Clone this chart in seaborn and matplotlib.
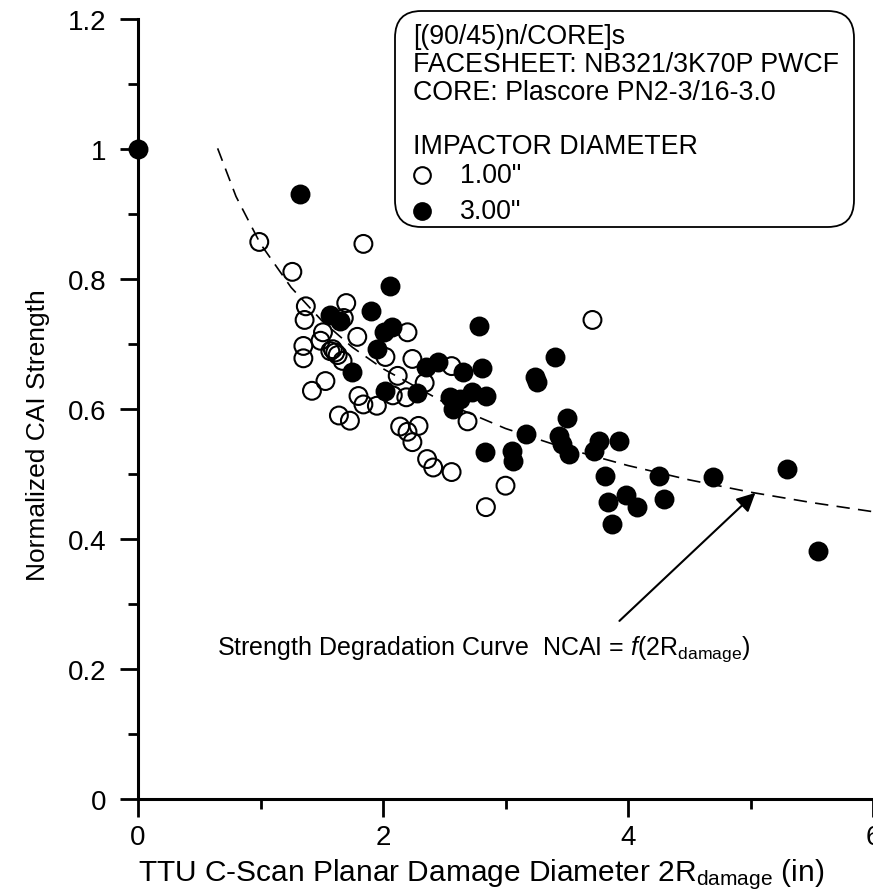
import numpy as np
import pandas as pd
import matplotlib
matplotlib.use("Agg")
import matplotlib.pyplot as plt
import seaborn as sns
from matplotlib.patches import FancyBboxPatch
from matplotlib.lines import Line2D

# ---- data ----
open_x = [0.99, 1.26, 1.84, 1.37, 1.36, 1.70, 1.68, 1.51, 1.49, 1.79, 2.20, 1.35, 1.35,
          1.57, 1.61, 1.63, 1.59, 1.67, 2.02, 2.24, 1.53, 1.42, 2.12, 2.34, 1.80, 2.08,
          2.19, 1.84, 1.95, 1.64, 1.73, 2.14, 2.29, 2.20, 2.24, 2.36, 2.41, 2.56, 2.69,
          2.56, 2.84, 3.00, 3.71]
open_y = [0.857, 0.811, 0.854, 0.758, 0.737, 0.763, 0.740, 0.718, 0.705, 0.711, 0.718, 0.697, 0.678,
          0.689, 0.687, 0.683, 0.692, 0.674, 0.680, 0.677, 0.643, 0.628, 0.651, 0.640, 0.620, 0.621,
          0.618, 0.607, 0.605, 0.590, 0.582, 0.573, 0.574, 0.565, 0.549, 0.523, 0.510, 0.666, 0.581,
          0.503, 0.449, 0.482, 0.737]

filled_x = [0.00, 1.32, 2.06, 1.57, 1.65, 1.90, 2.01, 2.07, 1.95, 1.75, 2.02, 2.28, 2.35,
            2.45, 2.65, 2.81, 2.78, 3.40, 3.24, 3.26, 2.55, 2.63, 2.57, 2.73, 2.84, 3.17,
            2.83, 3.05, 3.06, 3.50, 3.44, 3.46, 3.52, 3.76, 3.72, 3.93, 4.25, 3.81, 3.84,
            3.98, 3.87, 4.07, 4.69, 5.30, 4.29, 5.55]
filled_y = [1.000, 0.931, 0.789, 0.745, 0.735, 0.751, 0.718, 0.726, 0.692, 0.657, 0.628, 0.625, 0.664,
            0.672, 0.657, 0.663, 0.728, 0.680, 0.649, 0.641, 0.618, 0.615, 0.600, 0.626, 0.620, 0.561,
            0.534, 0.535, 0.520, 0.586, 0.559, 0.546, 0.531, 0.551, 0.535, 0.551, 0.497, 0.497, 0.457,
            0.467, 0.423, 0.449, 0.495, 0.508, 0.462, 0.382]

# strength degradation curve
curve_x = [0.65, 0.80, 1.00, 1.25, 1.50, 1.75, 2.00, 2.50, 3.00, 3.50, 4.00, 4.50, 5.00, 5.50, 6.00]
curve_y = [1.001, 0.927, 0.854, 0.787, 0.736, 0.695, 0.662, 0.610, 0.570, 0.539, 0.513, 0.491,
           0.472, 0.456, 0.442]

x_ticks = [0, 2, 4, 6]
x_tick_labels = ["0", "2", "4", "6"]
x_minor = [1, 3, 5]
y_ticks = [0.0, 0.2, 0.4, 0.6, 0.8, 1.0, 1.2]
y_tick_labels = ["0", "0.2", "0.4", "0.6", "0.8", "1", "1.2"]
y_minor = [0.1, 0.3, 0.5, 0.7, 0.9, 1.1]

legend_header = ["[(90/45)n/CORE]s", "FACESHEET: NB321/3K70P PWCF", "CORE: Plascore PN2-3/16-3.0"]
legend_title = "IMPACTOR DIAMETER"
legend_labels = ['1.00"', '3.00"']

# ---- style ----
sns.set_theme(style="ticks", rc={
    "axes.edgecolor": "black", "xtick.color": "black", "ytick.color": "black",
    "text.color": "black", "axes.labelcolor": "black",
})
plt.rcParams["font.family"] = ["Liberation Sans", "DejaVu Sans"]
plt.rcParams["mathtext.fontset"] = "custom"
plt.rcParams["mathtext.rm"] = "Liberation Sans"
plt.rcParams["mathtext.it"] = "Liberation Sans:italic"
plt.rcParams["mathtext.bf"] = "Liberation Sans:bold"

W, H = 873, 895
fig = plt.figure(figsize=(W / 100, H / 100), dpi=100)
ax = fig.add_axes([138 / W, (H - 800) / H, (W - 138) / W, 780 / H])

sns.lineplot(x=curve_x, y=curve_y, ax=ax, color="black", linewidth=1.2,
             linestyle=(0, (8, 5)), zorder=1)
sns.scatterplot(x=open_x, y=open_y, ax=ax, s=165, facecolor="none",
                edgecolor="black", linewidth=1.5, zorder=2)
sns.scatterplot(x=filled_x, y=filled_y, ax=ax, s=165, color="black",
                edgecolor="black", linewidth=1.5, zorder=3, clip_on=False)

ax.set_xlim(0, 6)
ax.set_ylim(0, 1.2)
ax.set_xticks(x_ticks)
ax.set_xticklabels(x_tick_labels)
ax.set_xticks(x_minor, minor=True)
ax.set_yticks(y_ticks)
ax.set_yticklabels(y_tick_labels)
ax.set_yticks(y_minor, minor=True)

for s in ["top", "right"]:
    ax.spines[s].set_visible(False)
for s in ["left", "bottom"]:
    ax.spines[s].set_linewidth(2.2)

ax.tick_params(which="major", direction="out", length=13, width=2, labelsize=20)
ax.tick_params(which="minor", direction="out", length=7, width=2)
ax.tick_params(axis="x", which="major", pad=5)
ax.tick_params(axis="y", which="major", pad=10)

ax.set_xlabel("TTU C-Scan Planar Damage Diameter 2R$_{\\mathrm{damage}}$ (in)", fontsize=21.5)
ax.set_ylabel("Normalized CAI Strength", fontsize=19)
ax.xaxis.set_label_coords(0.467, -0.073)
ax.yaxis.set_label_coords(-0.12, 0.468)

# annotation
ax.annotate("", xy=(5.04, 0.471), xytext=(3.93, 0.274),
            arrowprops=dict(arrowstyle="-|>", color="black", lw=1.5, mutation_scale=28,
                            shrinkA=0, shrinkB=0))
ax.text(0.645, 0.223, "Strength Degradation Curve  NCAI = $\\it{f}$(2R$_{\\mathrm{damage}}$)",
        fontsize=18, ha="left", va="baseline")

# legend box
box = FancyBboxPatch((395 / W, (H - 228) / H), (854 - 395) / W, (228 - 12) / H,
                     boxstyle="round,pad=0,rounding_size=0.03", transform=fig.transFigure,
                     facecolor="white", edgecolor="black", linewidth=1.3, zorder=5)
fig.add_artist(box)
for i, line in enumerate(legend_header):
    fig.text(413 / W, 1 - (37 + 28 * i) / H, line, fontsize=19.3, ha="left", va="center", zorder=6)
fig.text(413 / W, 1 - 147 / H, legend_title, fontsize=19.3, ha="left", va="center", zorder=6)
for yy, lab, fc in [(176, legend_labels[0], "none"), (212, legend_labels[1], "black")]:
    fig.add_artist(Line2D([422 / W], [1 - yy / H], marker="o", markersize=12,
                          markerfacecolor=fc, markeredgecolor="black", markeredgewidth=1.5,
                          linestyle="none", transform=fig.transFigure, zorder=6))
    fig.text(460 / W, 1 - yy / H, lab, fontsize=19.3, ha="left", va="center", zorder=6)

fig.savefig("out.png", dpi=100)
